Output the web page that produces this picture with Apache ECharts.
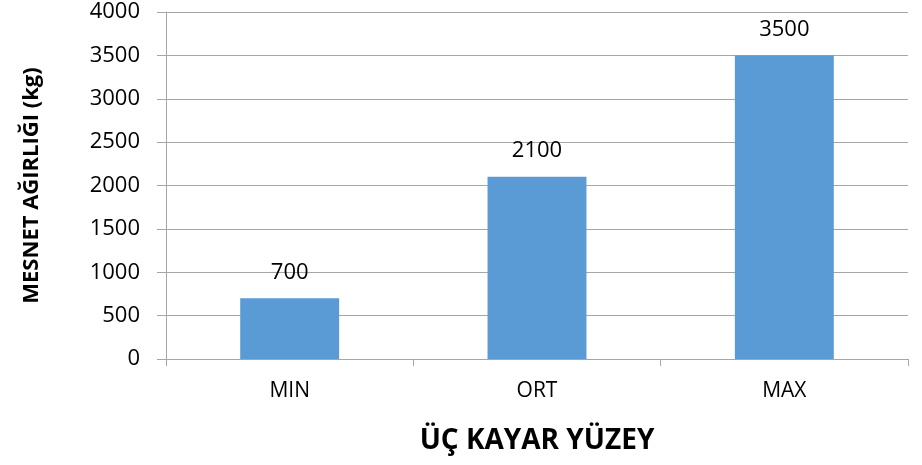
<!DOCTYPE html>
<html>
<head>
<meta charset="utf-8">
<script src="https://cdn.jsdelivr.net/npm/echarts@6/dist/echarts.min.js"></script>
<style>html,body{margin:0;padding:0;background:#fff}#c{width:922px;height:465px}</style>
</head>
<body>
<div id="c"></div>
<script>
const categories = ['MIN', 'ORT', 'MAX'];
const values = [700, 2100, 3500];
const yTicks = [0, 500, 1000, 1500, 2000, 2500, 3000, 3500, 4000];
const xTitle = 'ÜÇ KAYAR YÜZEY';
const yTitle = 'MESNET AĞIRLIĞI (kg)';

const font = '"Open Sans", "Liberation Sans", sans-serif';
const chart = echarts.init(document.getElementById('c'), null, {renderer: 'canvas'});
chart.setOption({
  animation: false,
  grid: {left: 166, right: 14, top: 12, bottom: 106, containLabel: false},
  xAxis: {
    type: 'category',
    data: categories,
    boundaryGap: true,
    name: xTitle,
    nameLocation: 'middle',
    nameGap: 68,
    nameTextStyle: {fontFamily: font, fontWeight: 'bold', fontSize: 28, color: '#000'},
    axisLine: {show: true, lineStyle: {color: '#a6a6a6', width: 1}},
    axisTick: {show: true, length: 7, alignWithLabel: false, lineStyle: {color: '#a6a6a6'}},
    axisLabel: {fontFamily: font, fontSize: 21, color: '#000', margin: 22}
  },
  yAxis: {
    type: 'value',
    min: yTicks[0],
    max: yTicks[yTicks.length - 1],
    interval: yTicks[1] - yTicks[0],
    name: yTitle,
    nameLocation: 'middle',
    nameGap: 123,
    nameRotate: 90,
    nameTextStyle: {fontFamily: font, fontWeight: 'bold', fontSize: 22, color: '#000'},
    axisLine: {show: true, lineStyle: {color: '#a6a6a6', width: 1}},
    axisTick: {show: true, length: 9, lineStyle: {color: '#a6a6a6'}},
    axisLabel: {fontFamily: font, fontSize: 22, color: '#000', margin: 26, formatter: v => String(v)},
    splitLine: {show: true, lineStyle: {color: '#a6a6a6', width: 1}}
  },
  series: [{
    type: 'bar',
    data: values,
    barWidth: '40%',
    itemStyle: {color: '#5b9bd5'},
    label: {show: true, position: 'top', distance: 15, fontFamily: font, fontSize: 22, color: '#000'}
  }]
});
</script>
</body>
</html>
